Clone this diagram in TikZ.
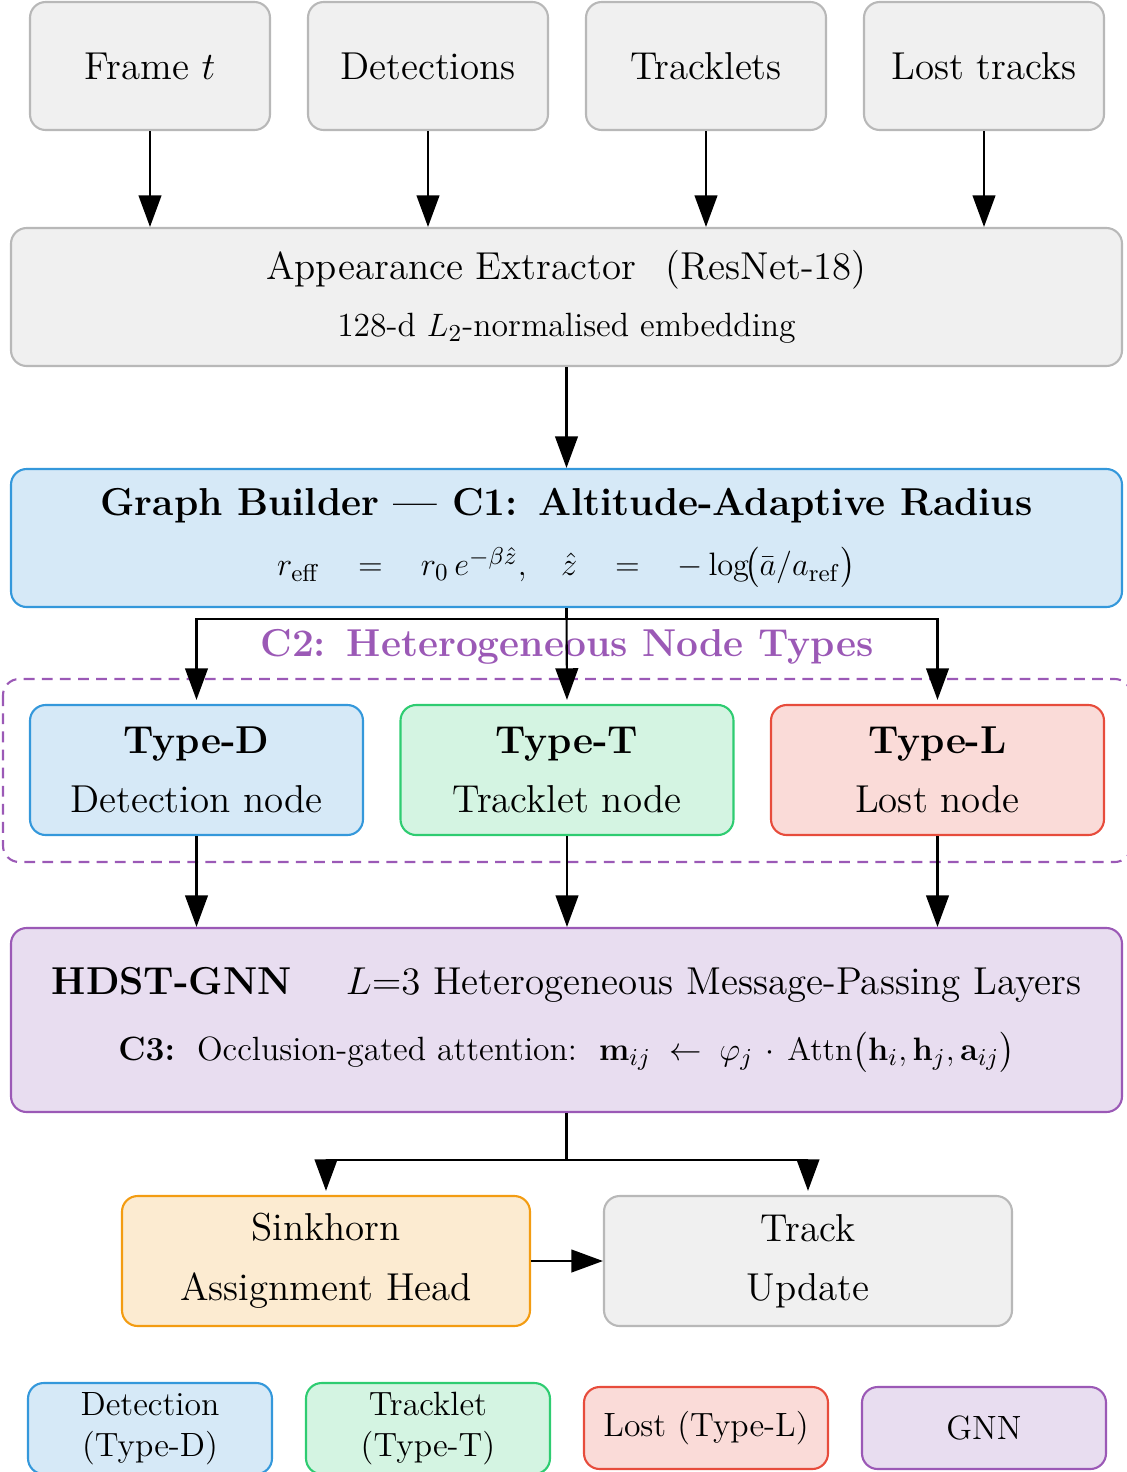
\documentclass[tikz,border=0pt]{standalone}
\usepackage{amsmath,amssymb}
\usetikzlibrary{arrows.meta}
\newlength\pxu \setlength\pxu{0.37pt}
\newcommand\smallfs{\fontsize{12.45}{15}\selectfont}
\newcommand\fq{\hspace{10.7pt}}
\definecolor{grayfill}{HTML}{F0F0F0}
\definecolor{graydraw}{HTML}{B8B8B8}
\definecolor{bluefill}{HTML}{D6E9F7}
\definecolor{bluedraw}{HTML}{3498DB}
\definecolor{greenfill}{HTML}{D4F4E2}
\definecolor{greendraw}{HTML}{2ECC71}
\definecolor{redfill}{HTML}{FADBD8}
\definecolor{reddraw}{HTML}{E74C3C}
\definecolor{purplefill}{HTML}{E8DDF0}
\definecolor{purpledraw}{HTML}{9B59B6}
\definecolor{orangefill}{HTML}{FCEBD1}
\definecolor{orangedraw}{HTML}{F39C12}
\begin{document}
\begin{tikzpicture}[x=0.37pt,y=-0.37pt,
  box/.style={draw, rounded corners=5.8pt, line width=0.78pt, align=center, inner sep=0pt},
  graybox/.style={box, fill=grayfill, draw=graydraw},
  bluebox/.style={box, fill=bluefill, draw=bluedraw},
  greenbox/.style={box, fill=greenfill, draw=greendraw},
  redbox/.style={box, fill=redfill, draw=reddraw},
  purplebox/.style={box, fill=purplefill, draw=purpledraw},
  orangebox/.style={box, fill=orangefill, draw=orangedraw},
  topbox/.style={graybox, minimum width=240*\pxu, minimum height=128*\pxu, font=\Large},
  widebox/.style={minimum width=1111*\pxu, minimum height=138*\pxu},
  typebox/.style={minimum width=333*\pxu, minimum height=130*\pxu, font=\Large},
  lowbox/.style={minimum width=408*\pxu, minimum height=130*\pxu, font=\Large},
  legbox/.style={minimum width=244*\pxu, font=\smallfs},
  arr/.style={line width=0.78pt, -{Triangle[length=11.7pt,width=8.4pt]}}
]
\useasboundingbox (0,0) rectangle (1126,1472);

% top inputs
\node[topbox] (f1) at (150,66) {Frame $t$};
\node[topbox] (f2) at (428,66) {Detections};
\node[topbox] (f3) at (706,66) {Tracklets};
\node[topbox] (f4) at (984,66) {Lost tracks};

% appearance extractor
\node[graybox, widebox] (app) at (566.5,297) {{\Large Appearance Extractor\hspace{11pt}(ResNet-18)}\\[8pt]
  {\smallfs 128-d $L_2$-normalised embedding}};

\foreach \n in {f1,f2,f3,f4} \draw[arr] (\n.south) -- (\n.south |- app.north);

% graph builder
\node[bluebox, widebox] (gb) at (566.5,538) {{\Large\bfseries Graph Builder --- C1:\hspace{7.5pt}Altitude-Adaptive Radius}\\[8pt]
  {\smallfs $r_{\mathrm{eff}}\fq=\fq r_0\,e^{-\beta\hat z},\fq \hat z\fq=\fq -\log\!\bigl(\bar a/a_{\mathrm{ref}}\bigr)$}};
\draw[arr] (app.south) -- (app.south |- gb.north);

% C2 group
\draw[purpledraw, line width=0.78pt, dash pattern=on 4pt off 2.7pt, rounded corners=6pt] (3,679) rectangle (1131,862);
\node[font=\Large\bfseries, text=purpledraw] (c2) at (567,647) {C2:\hspace{7.7pt}Heterogeneous Node Types};

\node[bluebox, typebox] (tD) at (196.5,770) {\textbf{Type-D}\\[4pt]Detection node};
\node[greenbox, typebox] (tT) at (567,770) {\textbf{Type-T}\\[4pt]Tracklet node};
\node[redbox, typebox] (tL) at (937.5,770) {\textbf{Type-L}\\[4pt]Lost node};

\draw[arr, shorten >=1.5pt] (gb.south) -- (tT.north);
\draw[arr, shorten >=1.5pt] (gb.south) -- ++(0,11) -| (tD.north);
\draw[arr, shorten >=1.5pt] (gb.south) -- ++(0,11) -| (tL.north);

% GNN
\node[purplebox, minimum width=1111*\pxu, minimum height=184*\pxu] (gnn) at (566.5,1020)
  {{\Large\textbf{HDST-GNN}\hspace{20pt}$L{=}3$ Heterogeneous Message-Passing Layers}\\[10pt]
   {\smallfs\textbf{C3:}\ \ Occlusion-gated attention:\ \ $\mathbf{m}_{ij}\;\leftarrow\;\varphi_j\,\cdot\,\mathrm{Attn}\bigl(\mathbf{h}_i,\mathbf{h}_j,\mathbf{a}_{ij}\bigr)$}};
\foreach \n in {tD,tT,tL} \draw[arr] (\n.south) -- (\n.south |- gnn.north);

% bottom
\node[orangebox, lowbox] (sk) at (326,1261) {Sinkhorn\\[4pt]Assignment Head};
\node[graybox, lowbox] (tu) at (808,1261) {Track\\[4pt]Update};
\draw[arr, shorten >=1.5pt] (gnn.south) -- ++(0,47) -| (sk.north);
\draw[arr, shorten >=1.5pt] (gnn.south) -- ++(0,47) -| (tu.north);
\draw[arr] (sk.east) -- (tu.west);

% legend
\node[bluebox, legbox, minimum height=91*\pxu] (lD) at (150,1428.5) {Detection\\(Type-D)};
\node[greenbox, legbox, minimum height=91*\pxu] (lT) at (428,1428.5) {Tracklet\\(Type-T)};
\node[redbox, legbox, minimum height=82*\pxu] (lL) at (706,1428) {Lost (Type-L)};
\node[purplebox, legbox, minimum height=82*\pxu] (lG) at (984,1428) {GNN};
\end{tikzpicture}
\end{document}
